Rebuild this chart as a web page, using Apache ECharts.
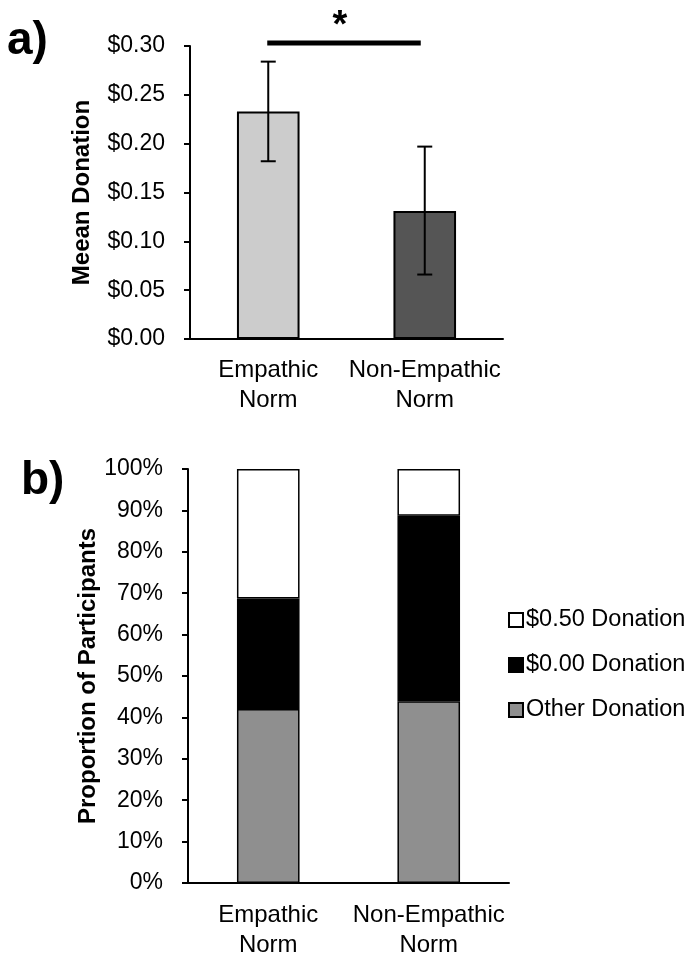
<!DOCTYPE html>
<html>
<head>
<meta charset="utf-8">
<script src="https://cdn.jsdelivr.net/npm/echarts@6/dist/echarts.min.js"></script>
<style>html,body{margin:0;padding:0;background:#fff}#c{width:689px;height:960px}</style>
</head>
<body>
<div id="c"></div>
<script>
// ---- data ----
const categories = ['Empathic\nNorm', 'Non-Empathic\nNorm'];
const meanDonation = [0.233, 0.131];
const errLow = [0.182, 0.066];
const errHigh = [0.284, 0.197];
const sigFrom = 0, sigTo = 1, sigLevel = 0.303, sigMark = '*';

const seriesNamesB = ['Other Donation', '$0.00 Donation', '$0.50 Donation'];
const otherDonation = [42.0, 43.9];
const zeroDonation = [26.7, 44.8];
const halfDonation = [31.3, 11.3];

// ---- styles ----
const FONT = '"Liberation Sans", Arial, Helvetica, sans-serif';
const barColorsA = ['#cccccc', '#555555'];
const colorsB = ['#8f8f8f', '#000000', '#ffffff'];

const chart = echarts.init(document.getElementById('c'), null, {renderer: 'canvas'});

function axisX(gi, margin) {
  return {
    type: 'category', gridIndex: gi, data: categories,
    axisLine: {lineStyle: {color: '#000', width: 2}},
    axisTick: {length: 6, lineStyle: {color: '#000', width: 2}},
    axisLabel: {color: '#000', fontSize: 24, lineHeight: 30, margin: margin, interval: 0, fontFamily: FONT}
  };
}
function axisY(gi, max, interval, fmt, name, gap, margin) {
  return {
    type: 'value', gridIndex: gi, min: 0, max: max, interval: interval,
    axisLine: {show: true, lineStyle: {color: '#000', width: 2}},
    axisTick: {show: true, length: 6, lineStyle: {color: '#000', width: 2}},
    splitLine: {show: false},
    axisLabel: {color: '#000', fontSize: 23, margin: margin, formatter: fmt, fontFamily: FONT},
    name: name, nameLocation: 'middle', nameGap: gap,
    nameTextStyle: {fontSize: 24, fontWeight: 'bold', color: '#000', fontFamily: FONT}
  };
}

const option = {
  animation: false,
  backgroundColor: '#fff',
  textStyle: {fontFamily: FONT},
  grid: [
    {left: 190, top: 46, width: 313, height: 293},
    {left: 188, top: 469, width: 321, height: 418}
  ],
  xAxis: [axisX(0, 16), axisX(1, 17)],
  yAxis: [
    axisY(0, 0.3, 0.05, v => '$' + v.toFixed(2), 'Meean Donation', 96, 25),
    axisY(1, 100, 10, v => Math.round(v) + '%', 'Proportion of Participants', 84, 25)
  ],
  legend: {
    orient: 'vertical', left: 503, top: 603,
    itemWidth: 14, itemHeight: 14, itemGap: 21,
    icon: 'rect',
    data: [seriesNamesB[2], seriesNamesB[1], seriesNamesB[0]],
    textStyle: {fontSize: 23.5, color: '#000', fontFamily: FONT, padding: [0, 0, 0, -2]}
  },
  series: [
    {
      name: 'Mean Donation', type: 'bar', xAxisIndex: 0, yAxisIndex: 0,
      barWidth: '40%',
      data: meanDonation.map((v, i) => ({value: v, itemStyle: {color: barColorsA[i]}})),
      itemStyle: {borderColor: '#000', borderWidth: 2}
    },
    {
      name: 'Error', type: 'custom', xAxisIndex: 0, yAxisIndex: 0, z: 5,
      data: meanDonation.map((v, i) => [i, errLow[i], errHigh[i]]),
      encode: {x: 0, y: [1, 2]},
      renderItem: function (params, api) {
        const i = api.value(0);
        const lo = api.coord([i, api.value(1)]);
        const hi = api.coord([i, api.value(2)]);
        const w = 7.5;
        const st = {stroke: '#000', lineWidth: 2};
        return {type: 'group', children: [
          {type: 'line', shape: {x1: lo[0], y1: lo[1], x2: hi[0], y2: hi[1]}, style: st},
          {type: 'line', shape: {x1: lo[0] - w, y1: lo[1], x2: lo[0] + w, y2: lo[1]}, style: st},
          {type: 'line', shape: {x1: hi[0] - w, y1: hi[1], x2: hi[0] + w, y2: hi[1]}, style: st}
        ]};
      }
    },
    {
      name: 'Significance', type: 'custom', xAxisIndex: 0, yAxisIndex: 0, z: 5, clip: false,
      data: [[sigFrom, sigTo, sigLevel]],
      renderItem: function (params, api) {
        const a = api.coord([api.value(0), api.value(2)]);
        const b = api.coord([api.value(1), api.value(2)]);
        const x1 = a[0] - 1, x2 = b[0] - 4;
        return {type: 'group', children: [
          {type: 'line', shape: {x1: x1, y1: a[1], x2: x2, y2: b[1]}, style: {stroke: '#000', lineWidth: 5}},
          {type: 'text', x: (x1 + x2) / 2 - 4, y: a[1] - 17,
           style: {text: sigMark, fontSize: 38, fontWeight: 'bold', fill: '#000', align: 'center', verticalAlign: 'middle', fontFamily: FONT}}
        ]};
      }
    },
    {
      name: seriesNamesB[0], type: 'bar', stack: 'b', xAxisIndex: 1, yAxisIndex: 1,
      barWidth: '39%', data: otherDonation,
      itemStyle: {color: colorsB[0], borderColor: '#000', borderWidth: 1.5}
    },
    {
      name: seriesNamesB[1], type: 'bar', stack: 'b', xAxisIndex: 1, yAxisIndex: 1,
      barWidth: '39%', data: zeroDonation,
      itemStyle: {color: colorsB[1], borderColor: '#000', borderWidth: 1.5}
    },
    {
      name: seriesNamesB[2], type: 'bar', stack: 'b', xAxisIndex: 1, yAxisIndex: 1,
      barWidth: '39%', data: halfDonation,
      itemStyle: {color: colorsB[2], borderColor: '#000', borderWidth: 1.5}
    }
  ],
  graphic: [
    {type: 'text', left: 7, top: 18, style: {text: 'a)', fontSize: 46, fontWeight: 'bold', fill: '#000', fontFamily: FONT}},
    {type: 'text', left: 21, top: 458, style: {text: 'b)', fontSize: 46, fontWeight: 'bold', fill: '#000', fontFamily: FONT}}
  ]
};
chart.setOption(option);
</script>
</body>
</html>
